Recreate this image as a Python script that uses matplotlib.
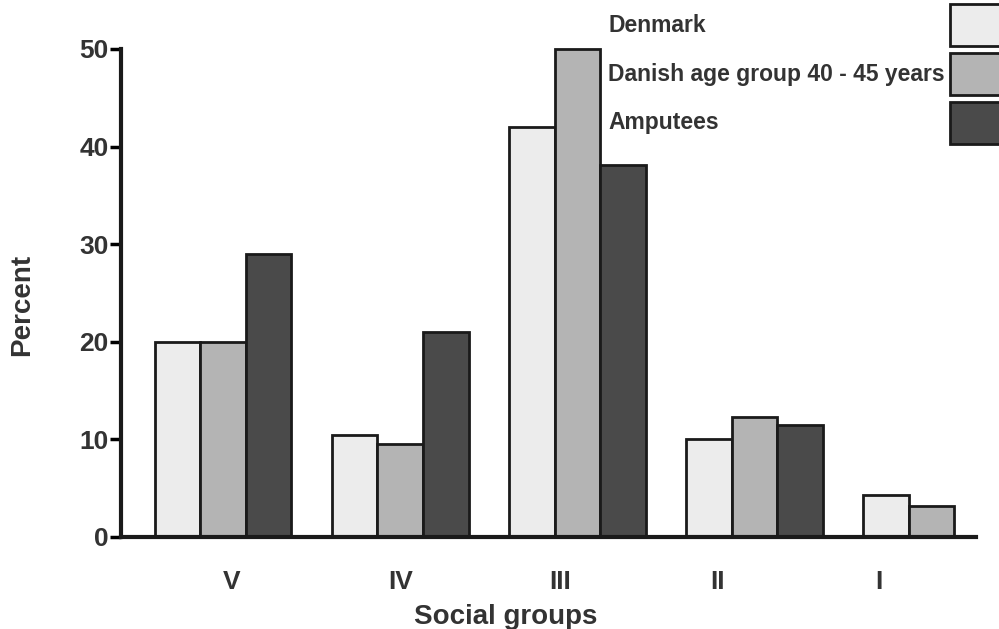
import numpy as np
import matplotlib

matplotlib.use("Agg")
import matplotlib.pyplot as plt
from matplotlib.patches import Rectangle

groups = ["V", "IV", "III", "II", "I"]
series_names = ["Denmark", "Danish age group 40 - 45 years", "Amputees"]
denmark = [20.0, 10.4, 42.0, 10.0, 4.3]
danish_40_45 = [20.0, 9.5, 50.0, 12.3, 3.2]
amputees = [29.0, 21.0, 38.1, 11.5, np.nan]  # no amputee bar for group I

colors = ["#ececec", "#b4b4b4", "#4a4a4a"]
plt.rcParams["font.family"] = ["Liberation Sans", "DejaVu Sans"]
plt.rcParams["font.weight"] = "bold"

fig = plt.figure(figsize=(9.99, 6.29), dpi=100)
ax = fig.add_axes([121 / 999, 1 - 537 / 629, (976 - 121) / 999, (537 - 49) / 629])

x = np.arange(len(groups))
w = 0.257
for k, vals in enumerate([denmark, danish_40_45, amputees]):
    vals = np.asarray(vals, dtype=float)
    ok = ~np.isnan(vals)
    ax.bar(x[ok] + (k - 1) * w, vals[ok], width=w, color=colors[k], edgecolor="#1a1a1a",
           linewidth=2, clip_on=False, zorder=2)

ax.set_xlim(-0.576, 4.25)
ax.set_ylim(0, 50)
ax.set_yticks([0, 10, 20, 30, 40, 50])

# group labels are not centred under the bars in the original
label_pos = x + np.array([0.05, 0.0, -0.10, -0.21, -0.30])
ax.set_xticks(label_pos)
ax.set_xticklabels(groups)
ax.tick_params(axis="x", length=0, pad=24, labelsize=19)
ax.tick_params(axis="y", length=8, width=2.5, direction="out", pad=1, labelsize=19)

for s in ["top", "right"]:
    ax.spines[s].set_visible(False)
for s in ["left", "bottom"]:
    ax.spines[s].set_linewidth(3)
    ax.spines[s].set_color("#1a1a1a")

fig.text(506 / 999, 1 - 617 / 629, "Social groups", ha="center", va="center",
         fontsize=20, fontweight="bold", color="#333333")
fig.text(22 / 999, 1 - 305 / 629, "Percent", ha="center", va="center", rotation=90,
         fontsize=20, fontweight="bold", color="#333333")

# legend: labels on the left, swatches at the right edge
ys = [25, 74, 123]
for name, col, yy in zip(series_names, colors, ys):
    fig.text(608 / 999, 1 - yy / 629, name, ha="left", va="center",
             fontsize=16.5, fontweight="bold", color="#333333")
    fig.patches.append(Rectangle((950 / 999, 1 - (yy + 21) / 629), 52 / 999, 42 / 629,
                                 transform=fig.transFigure, facecolor=col,
                                 edgecolor="#1a1a1a", linewidth=2))

for lab in ax.get_xticklabels() + ax.get_yticklabels():
    lab.set_color("#333333")

fig.savefig("out.png", dpi=100)
